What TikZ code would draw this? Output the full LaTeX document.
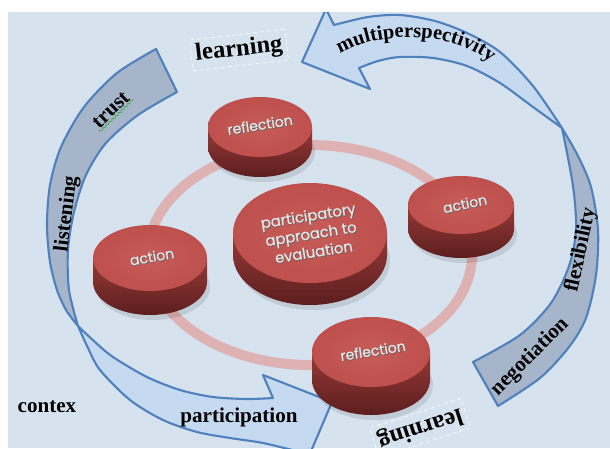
\documentclass[tikz,border=0pt]{standalone}
\usepackage{fontspec}
\setmainfont{Liberation Serif}
\newfontfamily\diskfont{Poppins}[FakeBold=0.9]
\usetikzlibrary{positioning,calc,decorations.text,decorations.pathmorphing}
\definecolor{paper}{RGB}{214,227,239}
\definecolor{arrowfront}{RGB}{197,217,241}
\definecolor{arrowback}{RGB}{166,181,201}
\definecolor{arrowline}{RGB}{79,129,189}
\definecolor{ringpink}{RGB}{222,177,179}
\definecolor{disktop}{RGB}{190,80,77}
\definecolor{disktoplight}{RGB}{198,92,88}
\definecolor{diskside}{RGB}{150,58,55}
\definecolor{diskdark}{RGB}{92,30,30}
\definecolor{embtext}{RGB}{230,230,230}
\definecolor{embshade}{RGB}{95,95,95}
\definecolor{squiggle}{RGB}{60,170,60}
\tikzset{
  front/.style={fill=arrowfront, draw=arrowline, line width=1.5pt, line join=round},
  back/.style={fill=arrowback, draw=arrowline, line width=1.5pt, line join=round},
  word/.style={font=\bfseries\fontsize{15}{17}\selectfont, text=black, inner sep=1pt},
  bigword/.style={font=\bfseries\fontsize{17.5}{20}\selectfont, draw=white, densely dashed,
                  line width=0.4pt, inner sep=3pt},
  disklbl/.style={font=\diskfont\fontsize{10}{12.5}\selectfont, align=center, inner sep=0pt}
}
\newcommand{\multifont}{\bfseries\fontsize{14.5}{16}\selectfont}
\newcommand{\embossed}[1]{\leavevmode\rlap{\kern0.45pt\raisebox{-0.6pt}{\color{embshade}#1}}{\color{embtext}#1}}
% puck: centre x, centre y, x radius, y radius, thickness
\newcommand{\drawdisk}[5]{%
  \fill[black, opacity=0.10] (#1+3,#2+#5+5) ellipse[x radius=#3, y radius=#4];
  \shade[top color=diskside, bottom color=diskdark]
    (#1-#3,#2) -- (#1-#3,#2+#5) arc[start angle=180, end angle=0, x radius=#3, y radius=#4]
    -- (#1+#3,#2) -- cycle;
  \shade[inner color=disktoplight, outer color=disktop] (#1,#2) ellipse[x radius=#3, y radius=#4];
}

\begin{document}
\begin{tikzpicture}[x=0.025cm, y=-0.025cm]
  \useasboundingbox (0,0) rectangle (610,448);
  \fill[white] (0,0) rectangle (610,448);
  \fill[paper] (8,12) rectangle (610,448);

  \begin{scope}
    \clip (8,12) rectangle (610,448);

    % ring behind the pucks
    \draw[ringpink, line width=0.25cm] (310,255) ellipse[x radius=162, y radius=110];

    % upper right curved arrow
    \filldraw[back] (562,128)
      -- plot[smooth] coordinates {(562,128) (578,156) (591,187) (598,230) (596,275) (586,318) (569,347) (540,378) (498,406)}
      -- (473,362)
      -- plot[smooth] coordinates {(473,362) (520,335) (551,303) (569,266) (576,230) (573,186) (562,128)}
      -- cycle;
    \filldraw[front] (302,62) -- (326,9) -- (334,25)
      -- plot[smooth] coordinates {(334,25) (368,17) (400,15) (435,21) (467,33) (500,52) (533,86) (562,128)}
      -- plot[smooth] coordinates {(562,128) (533,107) (500,83) (467,66) (433,58) (400,57) (378,61) (359,68)}
      -- (370,89) -- cycle;

    % lower left curved arrow
    \filldraw[back] (156,49) -- (177,92)
      -- plot[smooth] coordinates {(177,92) (138,115) (106,143) (86,175) (74,212) (68,250) (69,290) (78,326)}
      -- plot[smooth] coordinates {(78,326) (66,310) (57,290) (50,262) (47,225) (50,185) (61,147) (84,107) (117,73) (156,49)}
      -- cycle;
    \filldraw[front] (78,326)
      -- plot[smooth] coordinates {(78,326) (95,342) (113,357) (147,377) (180,390) (213,397) (247,399) (273,398)}
      -- (263,375) -- (332,402) -- (303,470) -- (300,452)
      -- plot[smooth] coordinates {(300,452) (263,443) (230,438) (197,432) (163,420) (130,400) (100,370) (88,348) (78,326)}
      -- cycle;

    % pucks
    \drawdisk{260}{127}{52}{30}{20}
    \drawdisk{310}{233}{77}{50}{22}
    \drawdisk{461}{205}{53}{29}{24}
    \drawdisk{150}{258}{57}{33}{24}
    \drawdisk{371}{352}{59}{35}{28}

    \node[disklbl, rotate=9] (reflTop) at (260,125) {\embossed{reflection}};
    \node[disklbl, rotate=12] (actRight) at (465,204) {\embossed{action}};
    \node[disklbl, rotate=10] (actLeft) at (152,257) {\embossed{action}};
    \node[disklbl, rotate=9] (reflBot) at (373,351) {\embossed{reflection}};
    \node[disklbl, rotate=9, font=\diskfont\fontsize{10.5}{13}\selectfont] (core) at (311,234)
      {\embossed{participatory}\\ \embossed{approach to}\\ \embossed{evaluation}};

    % words round the cycle
    \node[word, bigword, rotate=6.5] (lrnTop) at (239,50) {learning};
    \node[word, bigword, rotate=198] (lrnBot) at (420,428) {learning};
    \path[decorate, decoration={text along path, text align=center,
          text={|\multifont|multiperspectivity}}]
      (334,58) .. controls (370,30) and (455,28) .. (496,67);
    \node[word, rotate=78] (flex) at (581,250) {flexibility};
    \node[word, rotate=45] (nego) at (530,357) {negotiation};
    \node[word, rotate=83] (listen) at (67,214) {listening};
    \node[word, rotate=44] (trust) at (111,110) {trust};
    \draw[squiggle, line width=0.5pt, decorate, decoration={snake, amplitude=0.7pt, segment length=3pt}]
      (trust.south west) -- (trust.south east);
    \node[word, anchor=base] (partic) at (239,422) {participation};
    \node[word, anchor=base] (ctx) at (47,412) {contex};
  \end{scope}
\end{tikzpicture}
\end{document}
